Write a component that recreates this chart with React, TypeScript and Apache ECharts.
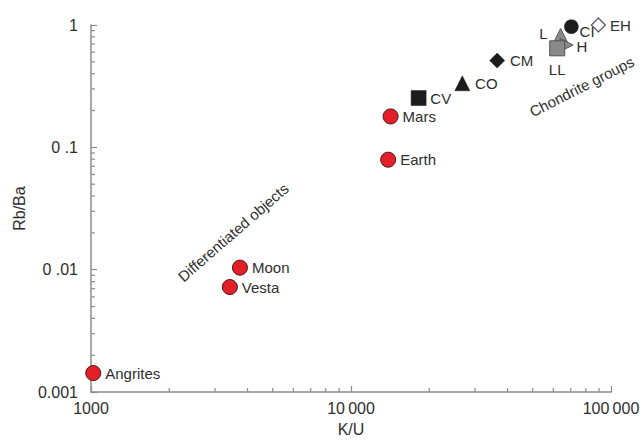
import React, { useEffect, useRef } from "react";
import * as echarts from "echarts";

// ---- data ----
const pointNames = ["Angrites", "Vesta", "Moon", "Earth", "Mars", "CV", "CO", "CM", "L", "H", "LL", "CI", "EH"];
const kuValues = [1020, 3420, 3740, 13900, 14200, 18200, 26800, 36500, 64000, 67500, 62100, 70400, 89400];
const rbBaValues = [0.00143, 0.00722, 0.0104, 0.0793, 0.179, 0.253, 0.334, 0.512, 0.813, 0.687, 0.645, 0.969, 1.0];

const annotationTexts = ["Differentiated objects", "Chondrite groups"];
const annotationKU = [3520, 77100];
const annotationRbBa = [0.0202, 0.314];

const xTickLabels: Record<string, string> = { "3": "1000", "4": "10\u2009000", "5": "100\u2009000" };
const yTickLabels: Record<string, string> = { "0": "1", "-1": "0 .1", "-2": "0 .01", "-3": "0.001" };

const xMinorTicks = [2000, 3000, 4000, 5000, 6000, 7000, 8000, 9000, 20000, 30000, 40000, 50000, 60000, 70000, 80000, 90000];
const yMinorTicks = [
  0.002, 0.003, 0.004, 0.005, 0.006, 0.007, 0.008, 0.009,
  0.02, 0.03, 0.04, 0.05, 0.06, 0.07, 0.08, 0.09,
  0.2, 0.3, 0.4, 0.5, 0.6, 0.7, 0.8, 0.9,
];

// ---- styles ----
const FONT = "'Liberation Sans', Arial, Helvetica, sans-serif";
const TEXT = "#2e2e2e";
const AXIS = "#8c8c8c";
const RED = { color: "#e3202a", borderColor: "#4a1414", borderWidth: 1, opacity: 1 };
const BLACK = { color: "#1c1c1c", borderColor: "#1c1c1c", borderWidth: 0.5, opacity: 1 };
const GREY = { color: "#8a8a8a", borderColor: "#555555", borderWidth: 1, opacity: 1 };
const OPEN = { color: "#ffffff", borderColor: "#555555", borderWidth: 1.2, opacity: 1 };

const markerStyles: Record<string, any> = {
  Angrites: { symbol: "circle", size: 15, item: RED, label: { position: "right", distance: 4 } },
  Vesta: { symbol: "circle", size: 15, item: RED, label: { position: "right", distance: 4 } },
  Moon: { symbol: "circle", size: 15, item: RED, label: { position: "right", distance: 4 } },
  Earth: { symbol: "circle", size: 15, item: RED, label: { position: "right", distance: 4 } },
  Mars: { symbol: "circle", size: 15, item: RED, label: { position: "right", distance: 4 } },
  CV: { symbol: "rect", size: 15, item: BLACK, label: { position: "right", distance: 4 } },
  CO: { symbol: "triangle", size: 15, item: BLACK, label: { position: "right", distance: 5 } },
  CM: { symbol: "diamond", size: 15, item: BLACK, label: { position: "right", distance: 5 } },
  L: { symbol: "triangle", size: 15, item: GREY, label: { position: "left", distance: 5, offset: [0, -3] } },
  H: { symbol: "triangle", size: 13, rotate: -90, item: GREY, label: { position: "right", distance: 3, offset: [0, 2] } },
  LL: { symbol: "rect", size: 15, item: GREY, label: { position: "bottom", distance: 6 } },
  CI: { symbol: "circle", size: 14, item: BLACK, label: { position: "right", distance: 1, offset: [0, 5] } },
  EH: { symbol: "diamond", size: 14, item: OPEN, label: { position: "right", distance: 4 } },
};

export default function App() {
  const ref = useRef<HTMLDivElement>(null);

  useEffect(() => {
    if (!ref.current) return;
    const chart = echarts.init(ref.current, undefined, { renderer: "svg" });

    const scatterData = pointNames.map((name, i) => {
      const s = markerStyles[name];
      return {
        name,
        value: [kuValues[i], rbBaValues[i]],
        symbol: s.symbol,
        symbolSize: s.size,
        symbolRotate: s.rotate || 0,
        itemStyle: s.item,
        label: {
          show: true,
          formatter: name,
          color: TEXT,
          fontSize: 15,
          fontFamily: FONT,
          ...s.label,
        },
      };
    });

    const annData = annotationTexts.map((t, i) => ({
      name: t,
      value: [annotationKU[i], annotationRbBa[i]],
      label: {
        show: true,
        formatter: t,
        position: "inside",
        rotate: i === 0 ? 41 : 27,
        color: TEXT,
        fontSize: 15,
        fontFamily: FONT,
      },
    }));

    const minorTickRender = (horizontal: boolean) => (params: any, api: any) => {
      const p = api.coord([api.value(0), api.value(1)]);
      const len = 4;
      return {
        type: "line",
        shape: horizontal
          ? { x1: p[0], y1: p[1], x2: p[0] + len, y2: p[1] }
          : { x1: p[0], y1: p[1], x2: p[0], y2: p[1] - len },
        style: { stroke: AXIS, lineWidth: 1.2 },
      };
    };

    chart.setOption({
      animation: false,
      grid: { left: 91, right: 32, top: 25, bottom: 49, containLabel: false },
      xAxis: {
        type: "log",
        logBase: 10,
        min: 1000,
        max: 100000,
        name: "K/U",
        nameLocation: "middle",
        nameGap: 22,
        nameTextStyle: { color: TEXT, fontSize: 16, fontFamily: FONT },
        axisLine: { lineStyle: { color: AXIS, width: 1.5 } },
        axisTick: { inside: true, length: 6, lineStyle: { color: AXIS, width: 1.2 } },
        axisLabel: {
          color: TEXT,
          fontSize: 16,
          fontFamily: FONT,
          margin: 8,
          formatter: (v: number) => xTickLabels[String(Math.round(Math.log10(v)))] || "",
        },
        splitLine: { show: false },
      },
      yAxis: {
        type: "log",
        logBase: 10,
        min: 0.001,
        max: 1,
        name: "Rb/Ba",
        nameLocation: "middle",
        nameGap: 62,
        nameTextStyle: { color: TEXT, fontSize: 16, fontFamily: FONT },
        axisLine: { lineStyle: { color: AXIS, width: 1.5 } },
        axisTick: { inside: true, length: 6, lineStyle: { color: AXIS, width: 1.2 } },
        axisLabel: {
          color: TEXT,
          fontSize: 16,
          fontFamily: FONT,
          margin: 13,
          formatter: (v: number) => yTickLabels[String(Math.round(Math.log10(v)))] || "",
        },
        splitLine: { show: false },
      },
      series: [
        {
          type: "custom",
          clip: false,
          silent: true,
          data: xMinorTicks.map((v) => [v, 0.001]),
          renderItem: minorTickRender(false),
        },
        {
          type: "custom",
          clip: false,
          silent: true,
          data: yMinorTicks.map((v) => [1000, v]),
          renderItem: minorTickRender(true),
        },
        {
          type: "scatter",
          clip: false,
          silent: true,
          symbolSize: 1,
          itemStyle: { color: "rgba(0,0,0,0)", opacity: 1 },
          data: annData,
        },
        {
          type: "scatter",
          clip: false,
          silent: true,
          data: scatterData,
        },
      ],
    });

    return () => chart.dispose();
  }, []);

  return <div ref={ref} style={{ width: 643, height: 442, position: "absolute", left: 0, top: 0 }} />;
}
